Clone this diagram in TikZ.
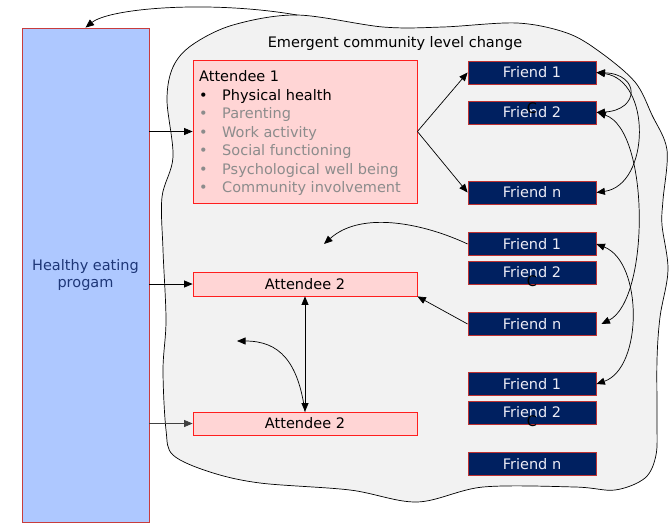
\documentclass[tikz,border=0pt]{standalone}
\usepackage{fontspec}
\setmainfont{DejaVu Sans}
\usetikzlibrary{arrows.meta}
\definecolor{bluefill}{RGB}{174,200,255}
\definecolor{blueline}{RGB}{200,60,60}
\definecolor{bluetext}{RGB}{30,55,120}
\definecolor{pinkfill}{RGB}{255,213,213}
\definecolor{pinkline}{RGB}{255,30,30}
\definecolor{navy}{RGB}{0,32,96}
\definecolor{navyline}{RGB}{190,50,50}
\definecolor{cloudfill}{RGB}{242,242,242}
\definecolor{graytext}{RGB}{140,140,140}
\definecolor{friendtext}{RGB}{235,235,245}
\tikzset{
  tip/.style={-{Triangle[length=8.5pt,width=7pt]}},
  dtip/.style={{Triangle[length=8.5pt,width=7pt]}-{Triangle[length=8.5pt,width=7pt]}},
  conn/.style={draw=black, line width=0.7pt},
  progbox/.style={draw=blueline, fill=bluefill, line width=0.8pt, minimum width=127pt, minimum height=494pt, inner sep=0pt, text=bluetext, align=center, font=\fontsize{14.5}{17}\selectfont},
  attbox/.style={draw=pinkline, fill=pinkfill, line width=0.8pt, minimum width=224pt, inner sep=0pt, font=\fontsize{14.5}{17}\selectfont},
  friendbox/.style={draw=navyline, fill=navy, line width=0.8pt, minimum width=128pt, minimum height=23pt, inner sep=0pt, text=friendtext, font=\fontsize{14.5}{17}\selectfont},
  linetext/.style={anchor=base west, inner sep=0pt, font=\fontsize{14.5}{17}\selectfont},
  strayc/.style={inner sep=0pt, font=\fontsize{14.5}{17}\selectfont, text=black},
}
\begin{document}
\begin{tikzpicture}[x=1pt, y=-1pt]
\useasboundingbox (0,0) rectangle (669,523);
% cloud
\draw[fill=cloudfill, draw=black, line width=0.7pt] plot[smooth cycle, tension=0.55] coordinates {
(297,15) (383,27) (443,27) (517,23) (567,33) (600,52) (635,82) (652,115) (667,150) (663,200) (662,225) (668,270) (660,317) (657,360) (657,420) (656,455) (645,478) (615,490) (575,487) (483,487) (417,502) (350,490) (260,483) (210,472) (173,455) (166,430) (163,370) (166,320) (163,250) (162,197) (173,157) (167,100) (173,67) (192,45) (233,25)};
\coordinate (ctop) at (297,15);
\node[font=\fontsize{14.5}{17}\selectfont] (title) at (395,43) {Emergent community level change};

% program box
\node[progbox] (hep) at (85.5,275) {Healthy eating\\progam};

% attendee boxes
\node[attbox, minimum height=143pt] (att1) at (305,131.5) {};
\node[linetext] (a1t0) at (199,81) {Attendee 1};
\node[linetext] (a1t1) at (199,100) {\makebox[23pt][l]{•}Physical health};
\node[linetext, text=graytext] (a1t2) at (199,118.5) {\makebox[23pt][l]{•}Parenting};
\node[linetext, text=graytext] (a1t3) at (199,137) {\makebox[23pt][l]{•}Work activity};
\node[linetext, text=graytext] (a1t4) at (199,155.5) {\makebox[23pt][l]{•}Social functioning};
\node[linetext, text=graytext] (a1t5) at (199,174) {\makebox[23pt][l]{•}Psychological well being};
\node[linetext, text=graytext] (a1t6) at (199,192.5) {\makebox[23pt][l]{•}Community involvement};

\node[attbox, minimum height=24pt] (att2) at (305,284) {Attendee 2};
\node[attbox, minimum height=23pt] (att3) at (305,423.5) {Attendee 2};

% friend boxes
\node[friendbox] (f11) at (532,72.5) {Friend 1};
\node[friendbox] (f12) at (532,112.5) {Friend 2};
\node[friendbox] (f1n) at (532,192.5) {Friend n};
\node[friendbox] (f21) at (532,244) {Friend 1};
\node[friendbox] (f22) at (532,272.5) {Friend 2};
\node[friendbox] (f2n) at (532,324) {Friend n};
\node[friendbox] (f31) at (532,384) {Friend 1};
\node[friendbox] (f32) at (532,412.5) {Friend 2};
\node[friendbox] (f3n) at (532,464) {Friend n};

% stray C labels
\node[strayc] (c1) at (532,108) {C};
\node[strayc] (c2) at (532,281) {C};
\node[strayc] (c3) at (532,421) {C};

% free ends
\coordinate (p1) at (324,244);
\coordinate (p2) at (237,341);

% connectors
\draw[conn, tip] (ctop) .. controls (210,0) and (110,8) .. (hep.north);
\draw[conn, tip] (hep.east |- att1.east) -- (att1.west);
\draw[conn, tip] (hep.east |- att2.east) -- (att2.west);
\draw[conn, tip, draw=black!75] (hep.east |- att3.east) -- (att3.west);
\draw[conn, tip] (att1.east) -- (f11.west);
\draw[conn, tip] (att1.east) -- (f1n.west);
\draw[conn, dtip] (f11.east) .. controls (640,74) and (640,110) .. (f12.east);
\draw[conn, dtip] (f11.east) .. controls (652,80) and (650,185) .. (f1n.east);
\draw[conn, dtip] ([xshift=1pt]f12.east) .. controls (650,130) and (650,300) .. ([xshift=5pt]f2n.east);
\draw[conn, dtip] (f21.east) .. controls (643,262) and (643,368) .. (f31.east);
\draw[conn, tip] (f21.west) .. controls (425,224) and (362,210) .. (p1);
\draw[conn, tip] (f2n.west) -- (att2.south east);
\draw[conn, dtip] (att2.south) -- (att3.north);
\draw[conn, tip] (att3.north) .. controls (298,362) and (280,341) .. (p2);
\end{tikzpicture}
\end{document}
